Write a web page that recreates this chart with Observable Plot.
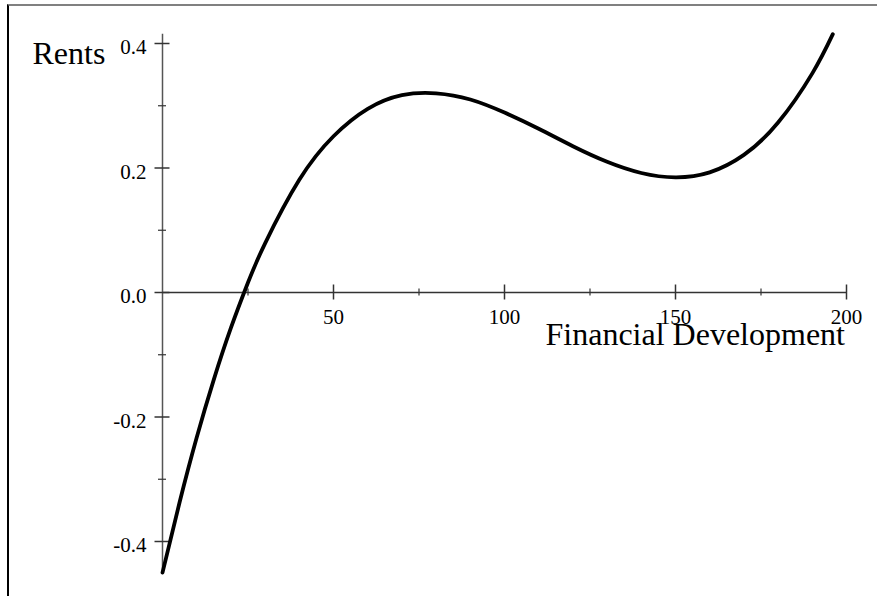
<!DOCTYPE html>
<html>
<head>
<meta charset="utf-8">
<script src="https://cdn.jsdelivr.net/npm/d3@7"></script>
<script src="https://cdn.jsdelivr.net/npm/@observablehq/plot@0.6"></script>
<style>
  html, body { margin: 0; padding: 0; background: #fff; }
  #wrap { position: relative; width: 877px; height: 596px; overflow: hidden; }
  #border { position: absolute; left: 7px; top: 4px; width: 870px; height: 592px;
            border-top: 2px solid #808080; border-left: 2px solid #000; box-sizing: border-box; pointer-events: none; }
</style>
</head>
<body>
<div id="wrap"><div id="border"></div></div>
<script>
// Curve: Financial Development (x) vs Rents (y)
const finDev = [0, 5, 10, 15, 20, 25, 30, 40, 50, 60, 70, 80, 90, 100, 110, 120, 130, 140, 150, 160, 170, 180, 190, 196];
const rents  = [-0.450, -0.337, -0.233, -0.140, -0.057, 0.016, 0.079, 0.181, 0.251, 0.295, 0.317, 0.320, 0.310, 0.289, 0.263, 0.235, 0.210, 0.192, 0.185, 0.193, 0.221, 0.273, 0.352, 0.415];

// Axis ticks
const xMajor = [50, 100, 150, 200];
const xMinor = [25, 75, 125, 175];
const yMajor = [-0.4, -0.2, 0.0, 0.2, 0.4];
const yMinor = [-0.3, -0.1, 0.1, 0.3];
const yTickLabels = ["-0.4", "-0.2", "0.0", "0.2", "0.4"];

const xLabel = "Financial Development";
const yLabel = "Rents";

const data = finDev.map((x, i) => ({x, y: rents[i]}));
const serif = "'Liberation Serif', 'Times New Roman', Times, serif";

const chart = Plot.plot({
  width: 877,
  height: 596,
  marginLeft: 0, marginTop: 0, marginRight: 0, marginBottom: 0,
  x: {domain: [0, 200], range: [162, 846], axis: null},
  y: {domain: [-0.4, 0.4], range: [541, 43], axis: null},
  style: {background: "transparent", fontFamily: serif, color: "#000"},
  marks: [
    // axis lines crossing at the origin
    Plot.ruleY([0], {x1: 0, x2: 200, stroke: "#333", strokeWidth: 1.5}),
    Plot.ruleX([0], {y1: d3.min(rents), y2: d3.max(rents), stroke: "#555", strokeWidth: 1.5}),
    // x ticks
    Plot.ruleX(xMajor, {x: d => d, y1: 0, y2: 0, insetTop: -7.5, insetBottom: -7.5, stroke: "#333", strokeWidth: 1.5}),
    Plot.ruleX(xMinor, {x: d => d, y1: 0, y2: 0, insetTop: -3.5, insetBottom: -3.5, stroke: "#333", strokeWidth: 1.2}),
    // y ticks
    Plot.ruleY(yMajor, {y: d => d, x1: 0, x2: 0, insetLeft: -7.5, insetRight: -7.5, stroke: "#333", strokeWidth: 1.5}),
    Plot.ruleY(yMinor, {y: d => d, x1: 0, x2: 0, insetLeft: -4, insetRight: -4, stroke: "#333", strokeWidth: 1.2}),
    // tick labels
    Plot.text(xMajor, {x: d => d, y: 0, text: d => String(d), textAnchor: "middle", lineAnchor: "bottom", dy: 31, fontSize: 21, fontFamily: serif, fill: "#000"}),
    Plot.text(yMajor, {x: 0, y: d => d, text: (d, i) => yTickLabels[i], textAnchor: "end", lineAnchor: "bottom", dx: -16, dy: 10.5, fontSize: 21, fontFamily: serif, fill: "#000"}),
    // axis titles
    Plot.text([yLabel], {frameAnchor: "top-left", text: d => d, textAnchor: "start", lineAnchor: "bottom", dx: 32, dy: 63, fontSize: 32, fontFamily: serif, fill: "#000"}),
    Plot.text([xLabel], {frameAnchor: "top-left", text: d => d, textAnchor: "start", lineAnchor: "bottom", dx: 545, dy: 344, fontSize: 32, fontFamily: serif, fill: "#000"}),
    // the curve
    Plot.line(data, {x: "x", y: "y", curve: "natural", stroke: "#000", strokeWidth: 3.8})
  ]
});
chart.style.position = "absolute";
chart.style.left = "0px";
chart.style.top = "0px";
document.getElementById("wrap").appendChild(chart);
</script>
</body>
</html>
